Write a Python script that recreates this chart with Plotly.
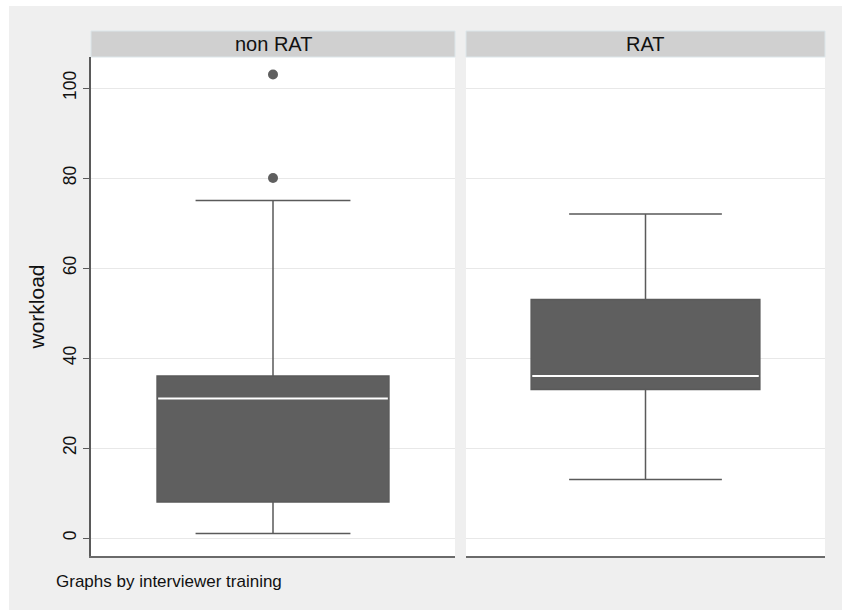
import plotly.graph_objects as go
from plotly.subplots import make_subplots

# Workload summary by interviewer training group
groups = ["non RAT", "RAT"]
q1 = [8, 33]
median = [31, 36]
q3 = [36, 53]
lower_whisker = [1, 13]
upper_whisker = [75, 72]
outliers = [[80, 103], []]
y_ticks = [0, 20, 40, 60, 80, 100]

BOX_FILL = "#5f5f5f"
DARK = "#5a5a5a"
GRID = "#e8e8e8"
BG = "#efefef"
STRIP = "#d0d0d0"
FONT = "Liberation Sans, Arial, sans-serif"

W, H = 842, 610
ML, MR, MT, MB = 91, 17, 57, 54
PW, PH = W - ML - MR, H - MT - MB

fig = make_subplots(rows=1, cols=2, shared_yaxes=False, horizontal_spacing=0.0)

box_center = 0.5
box_width = 0.637

for i, g in enumerate(groups):
    col = i + 1
    fig.add_trace(go.Box(
        x=[box_center], q1=[q1[i]], median=[median[i]], q3=[q3[i]],
        lowerfence=[lower_whisker[i]], upperfence=[upper_whisker[i]],
        width=box_width, whiskerwidth=0.668,
        fillcolor=BOX_FILL, line=dict(color=DARK, width=1.5),
        boxpoints=False, hoverinfo="skip", showlegend=False, name=g,
    ), row=1, col=col)
    # white median line drawn over the box
    fig.add_trace(go.Scatter(
        x=[box_center - box_width / 2 + 0.003, box_center + box_width / 2 - 0.003],
        y=[median[i], median[i]], mode="lines",
        line=dict(color="white", width=2), hoverinfo="skip", showlegend=False,
    ), row=1, col=col)
    if outliers[i]:
        fig.add_trace(go.Scatter(
            x=[box_center] * len(outliers[i]), y=outliers[i], mode="markers",
            marker=dict(color=BOX_FILL, size=10), hoverinfo="skip", showlegend=False,
        ), row=1, col=col)

left_dom = [0, 364 / PW]
right_dom = [(466 - ML) / PW, 1]

axis_common = dict(range=[0, 1], showgrid=False, zeroline=False, showticklabels=False,
                   ticks="", showline=True, linecolor="#6a6a6a", linewidth=2, mirror=False,
                   fixedrange=True)
fig.update_xaxes(domain=left_dom, row=1, col=1, **axis_common)
fig.update_xaxes(domain=right_dom, row=1, col=2, **axis_common)

yr = [-4.0, 106.9]
fig.update_yaxes(row=1, col=1, range=yr, tickvals=y_ticks, ticks="outside", ticklen=6,
                 tickcolor=DARK, tickwidth=1, tickangle=-90,
                 tickfont=dict(family=FONT, size=17.5, color="#111"),
                 showline=True, linecolor=DARK, linewidth=1.5,
                 showgrid=True, gridcolor=GRID, gridwidth=1, zeroline=False,
                 title=dict(text="workload", font=dict(family=FONT, size=21, color="#111"),
                            standoff=10))
fig.update_yaxes(row=1, col=2, range=yr, tickvals=y_ticks, showticklabels=False, ticks="",
                 showline=False, showgrid=True, gridcolor=GRID, gridwidth=1, zeroline=False,
                 matches="y")

shapes = []
# gray page background inside the thin white border
shapes.append(dict(type="rect", xref="paper", yref="paper", layer="below",
                   x0=(9 - ML) / PW, x1=(W - ML) / PW,
                   y0=(H - MB - H) / PH, y1=(H - MB - 6) / PH,
                   fillcolor=BG, line=dict(width=0)))
# white plot panels
for dom in (left_dom, right_dom):
    shapes.append(dict(type="rect", xref="paper", yref="paper", layer="below",
                       x0=dom[0], x1=dom[1], y0=0, y1=1,
                       fillcolor="white", line=dict(width=0)))

annotations = []
strip_y0 = 1.0
strip_y1 = (H - MB - 31) / PH
for dom, g in zip((left_dom, right_dom), groups):
    shapes.append(dict(type="rect", xref="paper", yref="paper",
                       x0=dom[0], x1=dom[1], y0=strip_y0, y1=strip_y1,
                       fillcolor=STRIP, line=dict(color="#dce6ea", width=1)))
    annotations.append(dict(text=g, xref="paper", yref="paper",
                            x=(dom[0] + dom[1]) / 2, y=(strip_y0 + strip_y1) / 2,
                            xanchor="center", yanchor="middle", showarrow=False,
                            font=dict(family=FONT, size=20, color="#111")))

annotations.append(dict(text="Graphs by interviewer training", xref="paper", yref="paper",
                        x=(54 - ML) / PW, y=(H - MB - 581) / PH,
                        xanchor="left", yanchor="middle", showarrow=False,
                        font=dict(family=FONT, size=17, color="#111")))

fig.update_layout(
    width=W, height=H,
    margin=dict(l=ML, r=MR, t=MT, b=MB, autoexpand=False),
    paper_bgcolor="white", plot_bgcolor="white",
    shapes=shapes, annotations=annotations, showlegend=False,
)

fig.write_html("out.html")
